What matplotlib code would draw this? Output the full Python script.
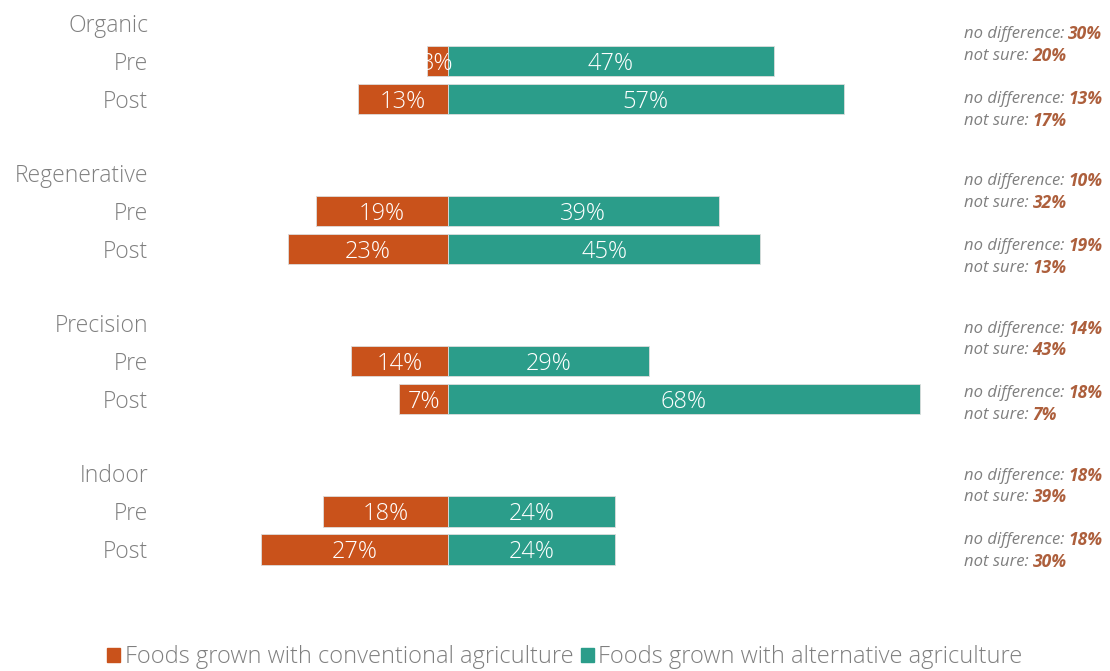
import matplotlib.pyplot as plt
from matplotlib.patches import Patch

# survey data: share preferring each kind of food, before and after
methods = ['Organic', 'Regenerative', 'Precision', 'Indoor']
phases = ['Pre', 'Post']
conventional = [[3, 13], [19, 23], [14, 7], [18, 27]]
alternative = [[47, 57], [39, 45], [29, 68], [24, 24]]
no_difference = [[30, 13], [10, 19], [14, 18], [18, 18]]
not_sure = [[20, 17], [32, 13], [43, 7], [39, 30]]

orange = '#c9521b'
teal = '#2b9d8a'
grey = '#7f7f7f'
brown = '#ad5f3c'

plt.rcParams['font.family'] = ['Open Sans', 'DejaVu Sans']

fig = plt.figure(figsize=(11.1, 6.71), dpi=100)
ax = fig.add_axes([0, 0, 1, 1])
ax.set_xlim(-64.55, 95.4)
ax.set_ylim(17.05, -0.605)
ax.axis('off')

group_step = 3.95
txt_dy = 0.07
for g, method in enumerate(methods):
    base = g * group_step
    ax.text(-43.2, base + txt_dy, method, ha='right', va='center', fontsize=16.5,
            color=grey, fontweight='light')
    ann_y = 0.3 + g * 3.87
    for p, phase in enumerate(phases):
        y = base + 1 + p
        c = conventional[g][p]
        a = alternative[g][p]
        ax.text(-43.2, y + txt_dy, phase, ha='right', va='center', fontsize=16.5,
                color=grey, fontweight='light')
        ax.barh(y, -c, height=0.8, color=orange, edgecolor='#dddddd', linewidth=0.6)
        ax.barh(y, a, height=0.8, color=teal, edgecolor='#dddddd', linewidth=0.6)
        ax.text(-c / 2, y + txt_dy, f'{c}%', ha='center', va='center', fontsize=17,
                color='white', fontweight='light')
        ax.text(a / 2, y + txt_dy, f'{a}%', ha='center', va='center', fontsize=17,
                color='white', fontweight='light')

        # side notes for the remaining answers
        ly = ann_y + p * 1.7
        for k, (lab, val) in enumerate([('no difference: ', no_difference[g][p]),
                                        ('not sure: ', not_sure[g][p])]):
            t = ax.text(74.3, ly + k * 0.57, lab, ha='left', va='center',
                        fontsize=12, style='italic', color=grey)
            ax.annotate(f'{val}%', xy=(1, 0.5), xycoords=t, ha='left', va='center',
                        fontsize=12.5, style='italic', fontweight='bold', color=brown)

handles = [Patch(color=orange), Patch(color=teal)]
fig.legend(handles, ['Foods grown with conventional agriculture',
                     'Foods grown with alternative agriculture'],
           loc='center', bbox_to_anchor=(565 / 1110, 1 - 657 / 671), ncol=2,
           frameon=False, labelcolor=grey, handlelength=0.55,
           handleheight=0.55, handletextpad=0.2, columnspacing=0.3,
           prop={'weight': 'light', 'size': 17})

fig.savefig('out.png', dpi=100)
